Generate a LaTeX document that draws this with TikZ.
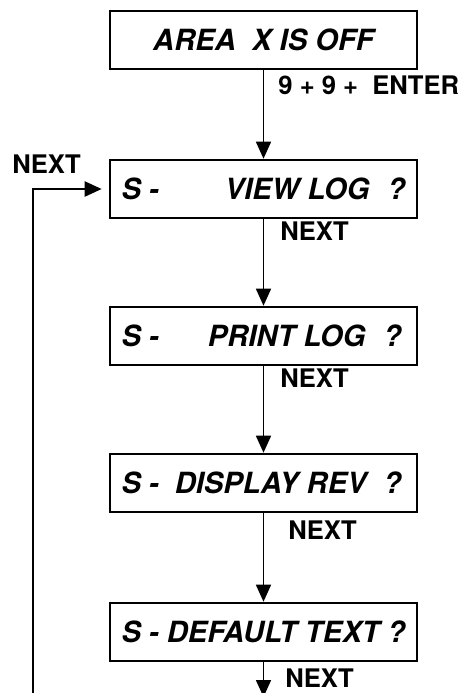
\documentclass[tikz,border=0pt]{standalone}
\usepackage{fontspec}
\setmainfont{TeX Gyre Heros}
\usetikzlibrary{arrows.meta}

\newcommand{\scrtext}[1]{\hbox to 142pt{#1}}

\tikzset{
  scrn/.style={draw, line width=1.3pt, minimum width=153.5pt, minimum height=29pt,
    inner xsep=5.5pt, font=\fontsize{14.6}{16}\selectfont\bfseries\itshape},
  lbl/.style={anchor=west, inner sep=0pt, font=\fontsize{12.8}{14}\selectfont\bfseries},
  flow/.style={line width=0.8pt, -{Triangle[length=8.5pt,width=7.5pt]}}
}

\begin{document}
\begin{tikzpicture}[x=0.5pt,y=-0.5pt]
\useasboundingbox (0,0) rectangle (467,693);
% screens
\node[scrn] (off) at (263.5,40) {AREA\ \ X IS OFF};
\node[scrn] (view) at (263.5,189) {\scrtext{S -\hfill VIEW LOG\hspace{9pt}?}};
\node[scrn] (print) at (263.5,336) {\scrtext{S -\hfill PRINT LOG\hspace{9pt}?\hspace{2pt}}};
\node[scrn] (rev) at (263.5,483) {\scrtext{S -\hspace{8pt}DISPLAY REV\hfill ?\hspace{2pt}}};
\node[scrn] (dflt) at (263.5,632) {\scrtext{S - DEFAULT TEXT ?}};
% key labels
\node[lbl] (code) at (278,85) {9 + 9 +\ \ ENTER};
\node[lbl] (nxtloop) at (12,164) {NEXT};
\node[lbl] (nxtview) at (280,231) {NEXT};
\node[lbl] (nxtprint) at (280,378) {NEXT};
\node[lbl] (nxtrev) at (288,530) {NEXT};
\node[lbl] (nxtdflt) at (285,678) {NEXT};
% arrows
\coordinate (loopbot) at (33,693);
\coordinate (outbot) at (263.5,697);
\draw[flow] (off.south) -- (view.north);
\draw[flow] (view.south) -- (print.north);
\draw[flow] (print.south) -- (rev.north);
\draw[flow] (rev.south) -- (dflt.north);
\draw[flow] (dflt.south) -- (outbot);
\draw[flow, line width=1.1pt, shorten >=3.5pt] (loopbot) |- (view.west);
\end{tikzpicture}
\end{document}
